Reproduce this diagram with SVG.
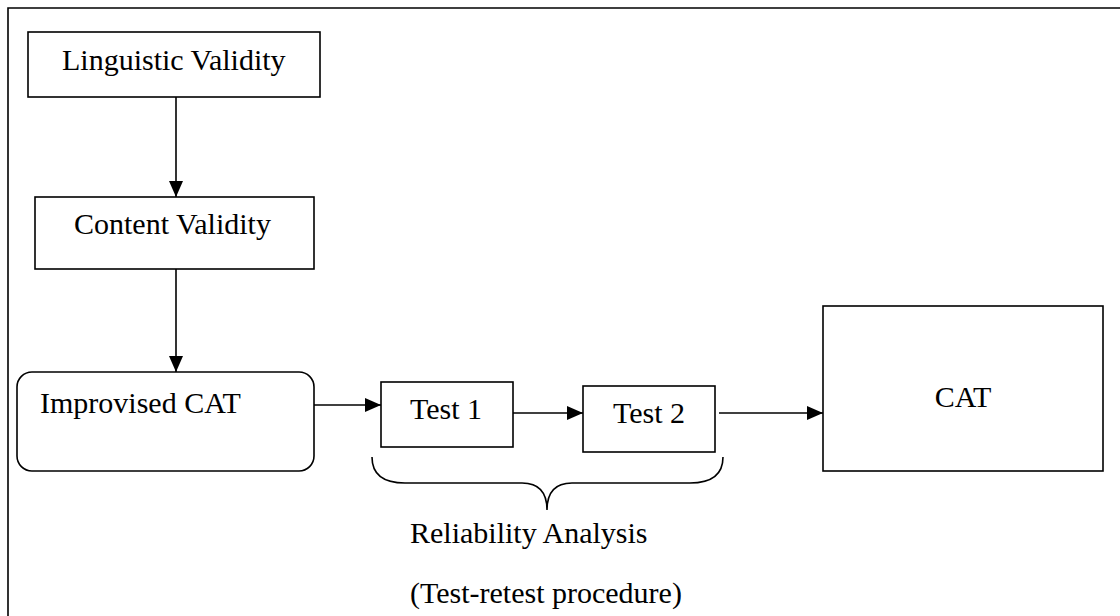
<svg xmlns="http://www.w3.org/2000/svg" width="1120" height="616" viewBox="0 0 1120 616">
<style>
.box{fill:#fff;stroke:#000;stroke-width:1.6}
.t{font-family:"Liberation Serif","Times New Roman",serif;font-size:30px;fill:#000}
.c{fill:none;stroke:#000;stroke-width:1.6}
</style>
<defs>
<marker id="ah" markerUnits="userSpaceOnUse" markerWidth="16" markerHeight="14" refX="16" refY="7" orient="auto">
<path d="M0,0 L16,7 L0,14 Z" fill="#000"/>
</marker>
</defs>
<rect width="1120" height="616" fill="#fff"/>
<path d="M8,616 V8 H1120" fill="none" stroke="#000" stroke-width="1.6"/>
<g id="linguistic"><rect class="box" x="28" y="32" width="292" height="65"/><text class="t" x="62" y="70">Linguistic Validity</text></g>
<g id="content"><rect class="box" x="35" y="197" width="279" height="72"/><text class="t" x="74" y="234">Content Validity</text></g>
<g id="improvised"><rect class="box" x="17" y="372" width="297" height="99" rx="15" ry="15"/><text class="t" x="40" y="413">Improvised CAT</text></g>
<g id="test1"><rect class="box" x="381" y="382" width="132" height="65"/><text class="t" x="410" y="419">Test 1</text></g>
<g id="test2"><rect class="box" x="583" y="386" width="132" height="66"/><text class="t" x="613" y="423">Test 2</text></g>
<g id="cat"><rect class="box" x="823" y="306" width="280" height="165"/><text class="t" x="963" y="407" text-anchor="middle">CAT</text></g>
<g id="reliability"><path class="c" d="M372,457 Q372,483 405,483 L522,483 Q547,483 547,510 Q547,483 572,483 L690,483 Q723,483 723,457"/><text class="t" x="410" y="543">Reliability Analysis</text><text class="t" x="410" y="603">(Test-retest procedure)</text></g>
<g id="connectors">
<line class="c" x1="176" y1="97" x2="176" y2="197" marker-end="url(#ah)"/>
<line class="c" x1="176" y1="269" x2="176" y2="372" marker-end="url(#ah)"/>
<line class="c" x1="314" y1="405" x2="381" y2="405" marker-end="url(#ah)"/>
<line class="c" x1="513" y1="413" x2="583" y2="413" marker-end="url(#ah)"/>
<line class="c" x1="719" y1="413" x2="823" y2="413" marker-end="url(#ah)"/>
</g>
</svg>
